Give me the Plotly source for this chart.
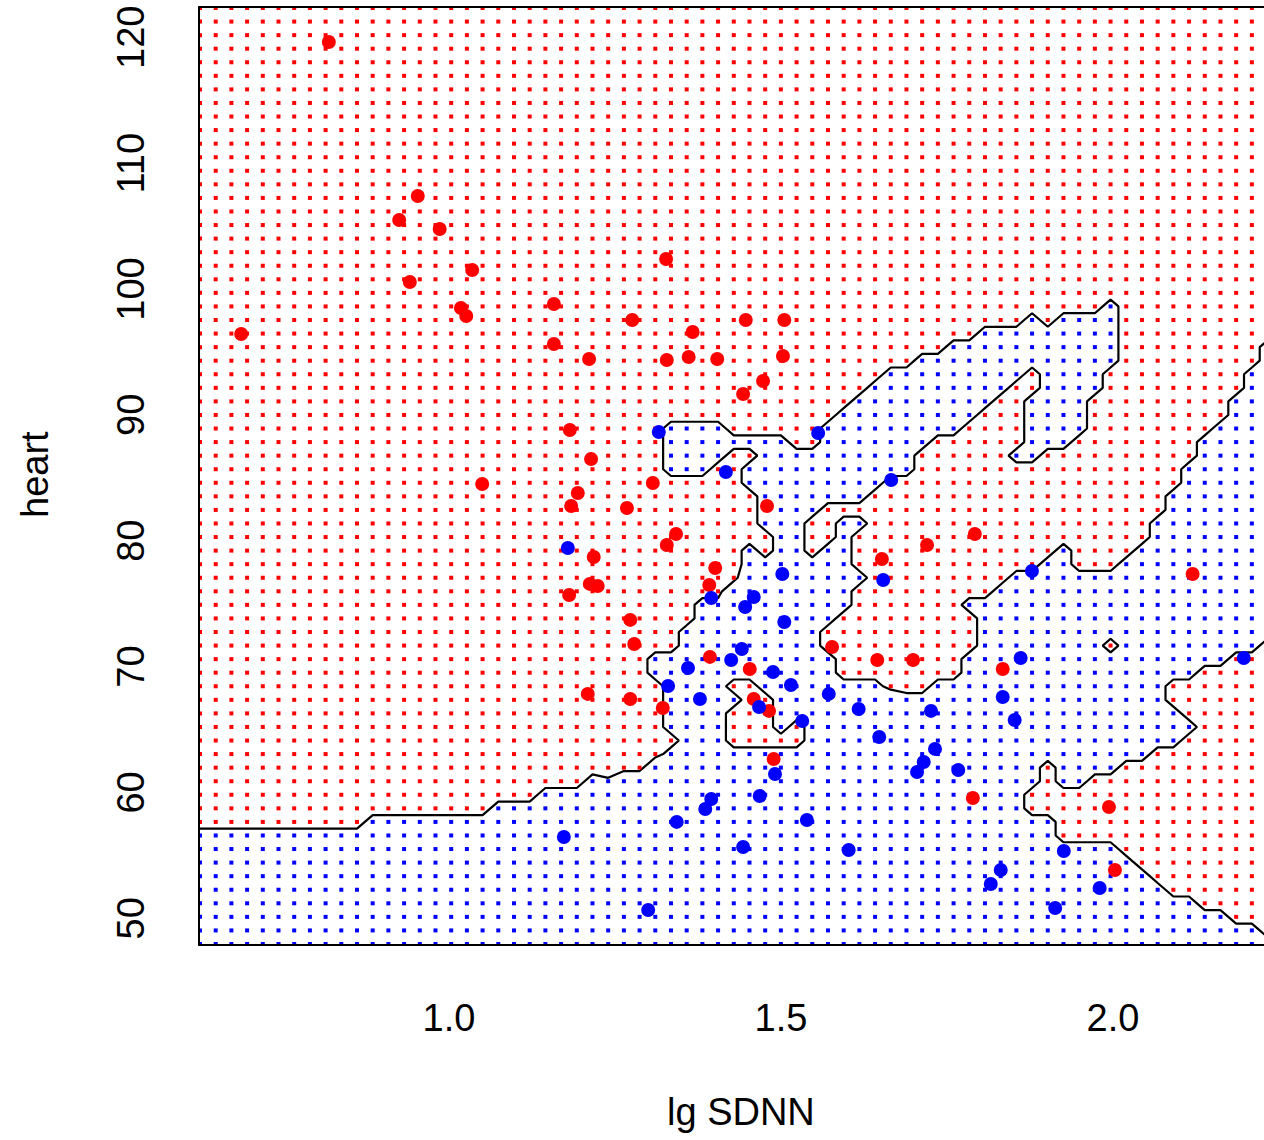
import numpy as np
import plotly.graph_objects as go

# ---- data ----
red_x = [0.819,0.687,0.925,0.953,0.986,0.941,1.035,1.018,1.026,1.050,1.158,1.158,1.211,1.182,1.214,1.194,1.184,1.218,1.212,1.224,1.181,1.209,1.276,1.327,1.328,1.361,1.367,1.404,1.447,1.505,1.503,1.473,1.443,1.307,1.342,1.328,1.268,1.273,1.279,1.273,1.322,1.392,1.401,1.393,1.479,1.453,1.459,1.482,1.489,1.577,1.652,1.645,1.699,1.720,1.792,1.834,1.789,1.994,2.003,2.120]
red_y = [120.08,96.88,105.94,107.84,105.22,101.01,101.96,98.94,98.31,84.96,99.26,96.08,94.89,89.25,86.95,84.25,83.21,79.16,77.02,76.86,76.14,68.28,97.99,102.84,94.81,95.05,97.04,94.89,97.99,97.99,95.13,93.14,92.11,85.04,80.99,80.11,83.05,74.16,72.25,67.88,67.16,76.94,78.29,71.22,83.21,70.26,67.88,66.93,63.11,72.01,79.0,70.98,70.98,80.11,80.99,70.26,60.01,59.30,54.29,77.81]
blue_x = [1.316,1.417,1.556,1.666,1.179,1.395,1.446,1.459,1.502,1.505,1.441,1.425,1.360,1.330,1.378,1.488,1.515,1.467,1.572,1.617,1.532,1.648,1.654,1.878,1.726,1.732,1.715,1.705,1.767,1.861,1.834,1.852,1.491,1.468,1.395,1.386,1.343,1.173,1.443,1.300,1.539,1.602,1.831,1.816,1.926,1.980,1.913,2.197]
blue_y = [89.09,85.91,89.01,85.28,79.88,75.90,75.19,75.98,77.81,74.0,71.85,70.98,70.34,68.91,67.88,70.02,68.99,67.24,68.28,67.08,66.13,64.86,77.33,78.05,66.93,63.91,62.87,62.08,62.24,71.14,68.04,66.21,61.92,60.17,59.93,59.14,58.11,56.91,56.12,51.11,58.26,55.88,54.29,53.18,55.80,52.86,51.27,71.14]

x_ticks = [1.0, 1.5, 2.0]
x_tick_text = ["1.0", "1.5", "2.0"]
y_ticks = [50, 60, 70, 80, 90, 100, 110, 120]
y_tick_text = ["50", "60", "70", "80", "90", "100", "110", "120"]

x_title = "lg SDNN"
y_title = "heart"

# ---- k-nearest-neighbour classification over a grid (k = 3, range-scaled features) ----
K = 3
N_GRID = 70
X = np.array(red_x + blue_x)
Y = np.array(red_y + blue_y)
C = np.array([0] * len(red_x) + [1] * len(blue_x))
rx, ry = X.max() - X.min(), Y.max() - Y.min()

gx = np.linspace(0.625, 0.625 + 69 * 0.023645, N_GRID)
gy = np.linspace(48.41, 122.78, N_GRID)
GX, GY = np.meshgrid(gx, gy)
d = ((GX.ravel()[:, None] - X[None, :]) / rx) ** 2 + ((GY.ravel()[:, None] - Y[None, :]) / ry) ** 2
nn = np.argsort(d, axis=1, kind="stable")[:, :K]
prob_blue = C[nn].mean(axis=1).reshape(GX.shape)
grid_col = np.where(prob_blue > 0.5, "#0000FF", "#FF0000")

FONT = "Liberation Sans, Arial, Helvetica, sans-serif"

fig = go.Figure()
fig.add_trace(go.Scatter(
    x=GX.ravel(), y=GY.ravel(), mode="markers",
    marker=dict(color=grid_col.ravel(), size=4, symbol="square", line=dict(width=0)),
    hoverinfo="skip"))
fig.add_trace(go.Scatter(
    x=red_x, y=red_y, mode="markers",
    marker=dict(color="#FF0000", size=14, line=dict(width=0)), name="red"))
fig.add_trace(go.Scatter(
    x=blue_x, y=blue_y, mode="markers",
    marker=dict(color="#0000FF", size=14, line=dict(width=0)), name="blue"))
fig.add_trace(go.Contour(
    x=gx, y=gy, z=prob_blue,
    contours=dict(start=0.5, end=0.5, size=1, coloring="none"),
    line=dict(color="black", width=2.2, smoothing=0), showscale=False, hoverinfo="skip"))

fig.update_layout(
    width=1264, height=1140,
    margin=dict(l=200, r=0, t=8, b=196),
    plot_bgcolor="white", paper_bgcolor="white",
    showlegend=False,
    font=dict(family=FONT, size=38, color="black"),
    xaxis=dict(range=[0.625, 2.2275], tickmode="array", tickvals=x_ticks, ticktext=x_tick_text,
               showgrid=False, zeroline=False, showline=True, linecolor="black", linewidth=2,
               mirror=True, ticks="", ticklabelstandoff=39, tickfont=dict(size=38)),
    yaxis=dict(range=[48.41, 122.78], tickmode="array", tickvals=y_ticks, ticktext=y_tick_text,
               showgrid=False, zeroline=False, showline=True, linecolor="black", linewidth=2,
               mirror=False, ticks="", tickangle=-90, ticklabelstandoff=39, tickfont=dict(size=38)),
    annotations=[
        dict(text=x_title, xref="paper", yref="paper", x=(741 - 200) / 1064, y=(944 - 1112) / 936,
             xanchor="center", yanchor="middle", showarrow=False, font=dict(size=38)),
        dict(text=y_title, xref="paper", yref="paper", x=(35 - 200) / 1064, y=(944 - 475) / 936,
             xanchor="center", yanchor="middle", showarrow=False, textangle=-90, font=dict(size=38)),
    ],
)
fig.write_html("out.html")
